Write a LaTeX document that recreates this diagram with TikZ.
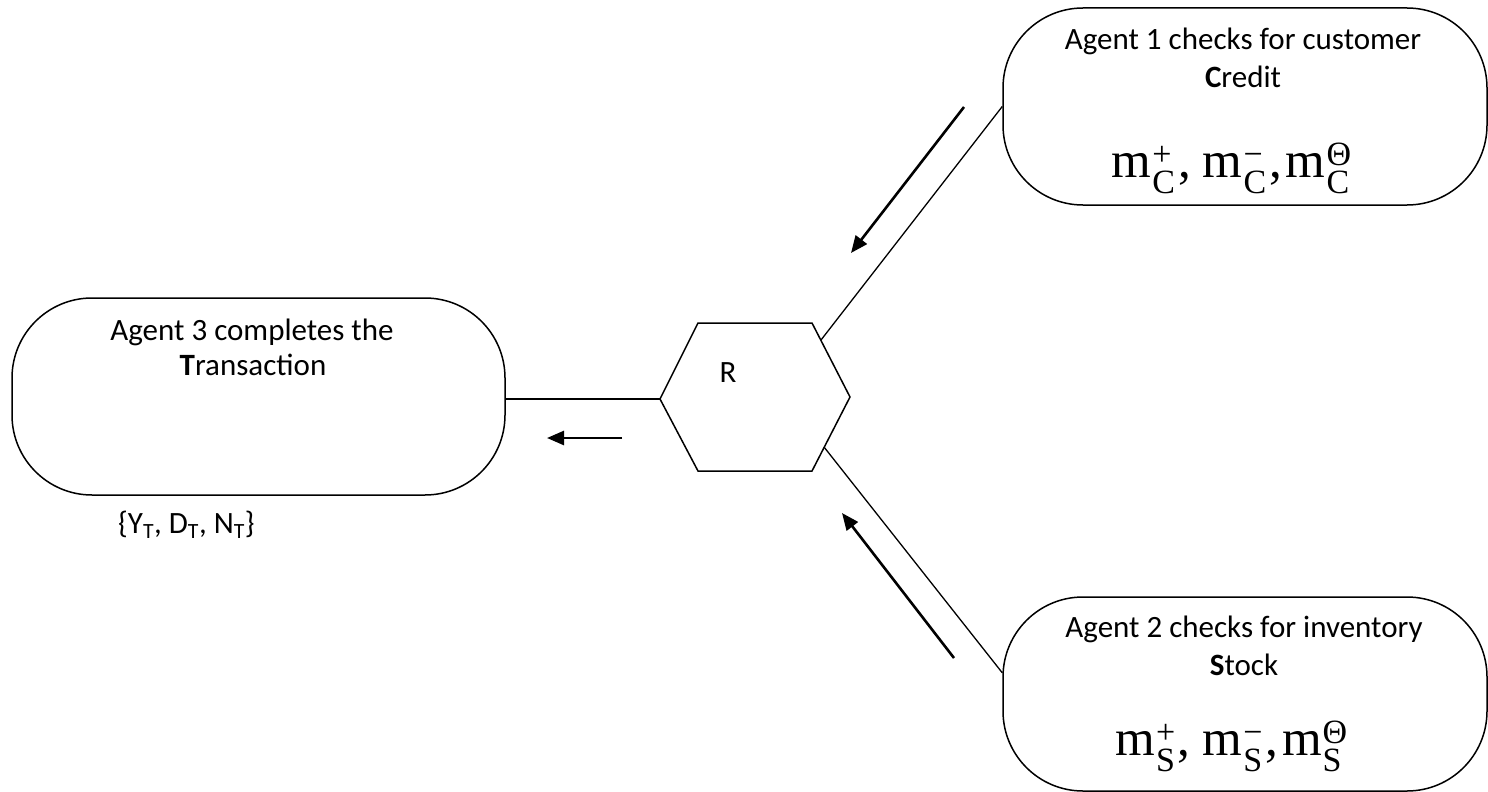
\documentclass[tikz,border=0pt]{standalone}
\usepackage{fontspec}
\setmainfont{Carlito}
\newfontfamily\tnr{Liberation Serif}
\usetikzlibrary{arrows.meta}
\newcommand\mterm[2]{m\kern1pt\rlap{\raisebox{12pt}{\fontsize{34pt}{34pt}\selectfont #1}}\raisebox{-16pt}{\fontsize{34pt}{34pt}\selectfont #2}\kern3pt}
\begin{document}
\begin{tikzpicture}[x=1pt,y=-1pt,
  agent/.style={draw, line width=1.5pt, rounded corners=80pt, inner sep=0pt},
  link/.style={line width=1.3pt},
  flow/.style={line width=2.6pt, -{Triangle[length=17pt,width=14pt]}},
  txt/.style={anchor=base, inner sep=0pt, font=\fontsize{31pt}{37pt}\selectfont},
  mth/.style={anchor=base, inner sep=0pt, font=\tnr\fontsize{51pt}{51pt}\selectfont}]
\useasboundingbox (0,0) rectangle (1488,792);
% agent boxes
\node[agent, minimum width=484pt, minimum height=197pt] (boxC) at (1245,106.5) {};
\node[agent, minimum width=484pt, minimum height=194pt] (boxS) at (1245,694) {};
\node[agent, minimum width=493pt, minimum height=197pt] (boxT) at (258.5,396.5) {};
% hexagon R
\coordinate (h1) at (660,399);
\coordinate (h2) at (698,323);
\coordinate (h3) at (812,323);
\coordinate (h4) at (850,397);
\coordinate (h5) at (812,471);
\coordinate (h6) at (698,471);
\draw[line width=1.5pt] (h1) -- (h2) -- (h3) -- (h4) -- (h5) -- (h6) -- cycle;
\node[txt] (rlab) at (728,382) {R};
\coordinate (hUR) at (821,340);
\coordinate (hLR) at (824,447);
% connectors
\draw[link] (h1) -- (h1 -| boxT.east);
\draw[link] (hUR) -- (boxC.west);
\draw[link] (hLR) -- (boxS.175);
% flow arrows
\coordinate (a1s) at (964,107); \coordinate (a1e) at (851,253);
\coordinate (a2s) at (954,658); \coordinate (a2e) at (842,513);
\coordinate (a3s) at (622,438); \coordinate (a3e) at (547,438);
\draw[flow] (a1s) -- (a1e);
\draw[flow] (a2s) -- (a2e);
\draw[flow] (a3s) -- (a3e);
% texts
\node[txt] (c1) at (1243,50) {Agent 1 checks for customer};
\node[txt] (c2) at (1243,87) {\textbf{C}redit};
\node[mth] (cm) at (1232,177) {\mterm{+}{C},\kern12pt\mterm{−}{C},\kern4pt\mterm{Θ}{C}};
\node[txt] (s1) at (1244,637) {Agent 2 checks for inventory};
\node[txt] (s2) at (1244,675) {\textbf{S}tock};
\node[mth] (sm) at (1230,755) {\mterm{+}{S},\kern12pt\mterm{−}{S},\kern4pt\mterm{Θ}{S}};
\node[txt] (t1) at (252,340) {Agent 3 completes the};
\node[txt] (t2) at (253,375) {\textbf{T}ransaction};
\node[txt, anchor=base west] (tset) at (118,533) {\{Y\textsubscript{T}, D\textsubscript{T}, N\textsubscript{T}\}};
\end{tikzpicture}
\end{document}
